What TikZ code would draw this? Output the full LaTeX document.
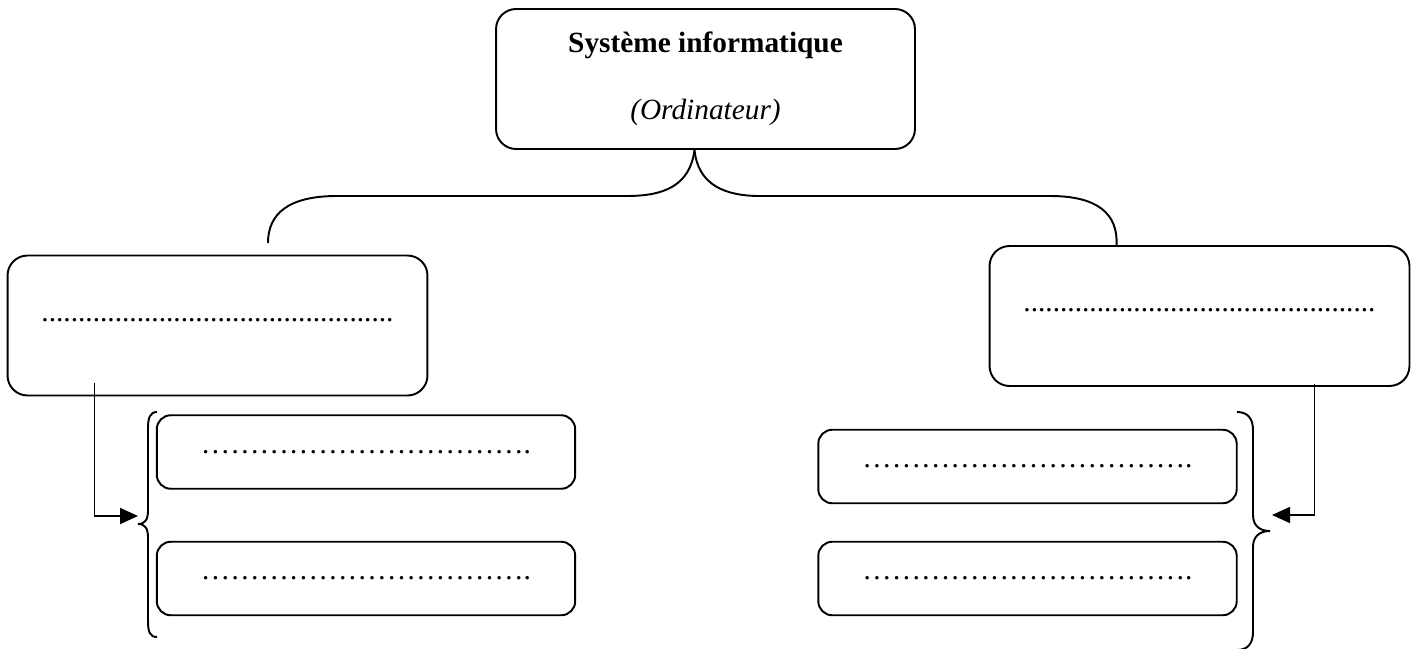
\documentclass[tikz,border=0pt]{standalone}
\usepackage{fontspec}
\setmainfont{Liberation Serif}
\usetikzlibrary{arrows.meta}

\newcommand{\blankline}{\foreach \k in {1,...,11}{…}.}

\tikzset{
  box/.style={draw, line width=1.1pt, rounded corners=0.4cm, font=\fontsize{16.7pt}{20pt}\selectfont},
  bigbox/.style={box, minimum width=8.4cm, minimum height=2.8cm, text depth=0.24cm},
  smallbox/.style={box, rounded corners=0.28cm, minimum width=8.37cm, minimum height=1.47cm},
  link/.style={line width=1pt, -{Triangle[length=0.36cm,width=0.32cm]}},
  brace/.style={line width=1.1pt}
}

\begin{document}
\begin{tikzpicture}[x=0.02cm, y=-0.02cm]
\useasboundingbox (0,0) rectangle (1413,649);

% Draw top box
\node[box, minimum width=8.38cm, minimum height=2.8cm, align=center] (sys) at (705.5,79)
  {\textbf{Système informatique}\\[18pt]\textit{(Ordinateur)}};

% Main boxes
\node[bigbox] (left) at (217.5,325.5) {................................................};
\node[bigbox] (right) at (1199.5,316) {................................................};

% Sub boxes
\node[smallbox] (left1) at (366,452) {\blankline};
\node[smallbox] (left2) at (366,578.5) {\blankline};
\node[smallbox] (right1) at (1027.5,466.5) {\blankline};
\node[smallbox] (right2) at (1027.5,578.5) {\blankline};

% Top brace
\coordinate (lend) at (268,243);
\draw[brace] ([xshift=-0.22cm]sys.south) .. controls (690,185) and (665,196) .. (627,196)
  -- (337,196) .. controls (288,196) and (268,214) .. (lend);
\draw[brace] ([xshift=-0.22cm]sys.south) .. controls (698,185) and (725,196) .. (760,196)
  -- (1050,196) .. controls (1098,196) and (1118,214) .. ([xshift=2.56cm]right.north west);

% Side braces
\draw[brace] (157,412) .. controls (150,412) and (148,418) .. (148,428) -- (148,510)
  .. controls (148,520) and (145,524) .. (138,524) .. controls (145,524) and (148,528) .. (148,538)
  -- (148,621) .. controls (148,632) and (150,637) .. (157,637);
\draw[brace] (1237,412) .. controls (1248,412) and (1253,419) .. (1253,430) -- (1253,515)
  .. controls (1253,525) and (1259,531) .. (1270,531) .. controls (1259,531) and (1253,537) .. (1253,547)
  -- (1253,632) .. controls (1253,643) and (1248,650) .. (1237,650);

% Arrows
\coordinate (ltip) at (138,516);
\coordinate (rtip) at (1272,515);
\draw[link] ([xshift=1.76cm,yshift=0.26cm]left.south west) |- (ltip);
\draw[link] ([xshift=6.52cm,yshift=0.06cm]right.south west) |- (rtip);
\end{tikzpicture}
\end{document}
